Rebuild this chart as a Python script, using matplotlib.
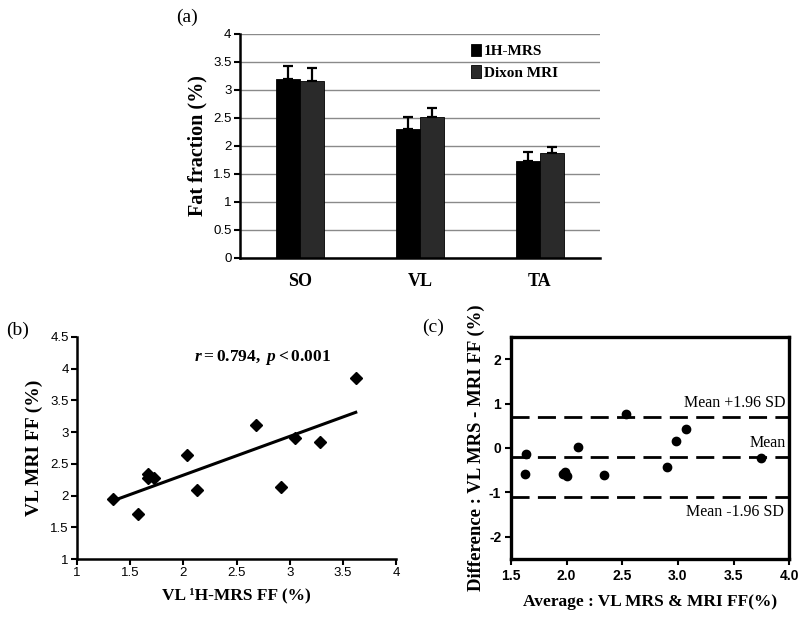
import numpy as np
import matplotlib
matplotlib.use("Agg")
import matplotlib.pyplot as plt
from matplotlib.ticker import FormatStrFormatter, MultipleLocator

plt.rcParams['font.family'] = ['Liberation Sans', 'DejaVu Sans']
plt.rcParams['mathtext.fontset'] = 'custom'
plt.rcParams['mathtext.rm'] = 'Liberation Serif:bold'
plt.rcParams['mathtext.it'] = 'Liberation Serif:bold:italic'

SERIF = ['Liberation Serif', 'DejaVu Serif']

# (a) mean fat fraction per muscle
muscles = ['SO', 'VL', 'TA']
mrs_mean = [3.20, 2.30, 1.73]
mrs_err = [0.23, 0.22, 0.17]
dixon_mean = [3.16, 2.52, 1.87]
dixon_err = [0.23, 0.16, 0.11]

# (b) VL correlation
vl_mrs = [1.34, 1.57, 1.67, 1.67, 1.72, 2.03, 2.13, 2.68, 2.92, 3.05, 3.28, 3.62]
vl_mri = [1.94, 1.71, 2.34, 2.27, 2.27, 2.64, 2.09, 3.11, 2.14, 2.90, 2.85, 3.85]

# (c) Bland-Altman
ba_avg = [1.64, 1.63, 1.97, 1.99, 2.00, 2.10, 2.335, 2.53, 2.90, 2.98, 3.07, 3.75]
ba_diff = [-0.14, -0.58, -0.58, -0.55, -0.64, 0.03, -0.61, 0.77, -0.42, 0.15, 0.43, -0.23]
mean_diff = -0.21
loa = 0.905

fig = plt.figure(figsize=(8.02, 6.17), dpi=100)

# ---------------- (a)
ax1 = fig.add_axes([0.299, 0.582, 0.449, 0.363])
x = np.arange(len(muscles))
w = 0.2
ax1.set_axisbelow(True)
ax1.yaxis.grid(True, color='#8a8a8a', lw=1)
ax1.bar(x - w / 2, mrs_mean, w, color='black', edgecolor='black', lw=0.6,
        label='1H-MRS', zorder=2)
ax1.bar(x + w / 2, dixon_mean, w, color='#2a2a2a', edgecolor='black', lw=0.6,
        label='Dixon MRI', zorder=2)
ax1.errorbar(x - w / 2, mrs_mean, yerr=[np.zeros(3), mrs_err], fmt='none',
             ecolor='black', elinewidth=1.6, capsize=3.5, capthick=1.6, zorder=3)
ax1.errorbar(x + w / 2, dixon_mean, yerr=[np.zeros(3), dixon_err], fmt='none',
             ecolor='black', elinewidth=1.6, capsize=3.5, capthick=1.6, zorder=3)
ax1.set_xlim(-0.5, 2.5)
ax1.set_ylim(0, 4)
ax1.yaxis.set_major_locator(MultipleLocator(0.5))
ax1.yaxis.set_major_formatter(FormatStrFormatter('%g'))
ax1.set_xticks(x)
ax1.set_xticklabels(muscles, family=SERIF, fontweight='bold', fontsize=13)
ax1.tick_params(axis='x', length=0, pad=11)
ax1.tick_params(axis='y', labelsize=9.5, length=4, width=1.5, pad=2)
for s in ['top', 'right']:
    ax1.spines[s].set_visible(False)
for s in ['left', 'bottom']:
    ax1.spines[s].set_linewidth(1.8)
ax1.set_ylabel('Fat fraction (%)', family=SERIF, fontweight='bold', fontsize=14.5,
               labelpad=4)
ax1.legend(loc='upper left', bbox_to_anchor=(0.62, 0.99), frameon=False,
           handlelength=0.7, handleheight=0.9, handletextpad=0.15,
           labelspacing=0.45, borderpad=0,
           prop={'family': SERIF, 'weight': 'bold', 'size': 11})
fig.text(0.233, 0.972, '(a)', family=SERIF, fontsize=14, ha='center', va='center')

# ---------------- (b)
ax2 = fig.add_axes([0.096, 0.094, 0.398, 0.360])
ax2.plot(vl_mrs, vl_mri, 'D', color='black', ms=6.5, zorder=3)
coef = np.polyfit(vl_mrs, vl_mri, 1)
xs = np.array([min(vl_mrs), max(vl_mrs)])
ax2.plot(xs, np.polyval(coef, xs), color='black', lw=2.2)
ax2.set_xlim(1, 4)
ax2.set_ylim(1, 4.5)
ax2.xaxis.set_major_locator(MultipleLocator(0.5))
ax2.yaxis.set_major_locator(MultipleLocator(0.5))
ax2.xaxis.set_major_formatter(FormatStrFormatter('%g'))
ax2.yaxis.set_major_formatter(FormatStrFormatter('%g'))
ax2.tick_params(labelsize=9.5, length=4, width=1.5, pad=2)
for s in ['top', 'right']:
    ax2.spines[s].set_visible(False)
for s in ['left', 'bottom']:
    ax2.spines[s].set_linewidth(1.8)
ax2.set_ylabel('VL MRI FF (%)', family=SERIF, fontweight='bold', fontsize=14,
               labelpad=5)
ax2.set_xlabel('VL \u00b9H-MRS FF (%)', family=SERIF, fontweight='bold',
               fontsize=12.5, labelpad=6)
ax2.text(0.58, 0.905, r'$r = \mathrm{0.794,}\ p < \mathrm{0.001}$',
         transform=ax2.transAxes, fontsize=12.5, ha='center', va='center')
fig.text(0.022, 0.465, '(b)', family=SERIF, fontsize=14, ha='center', va='center')

# ---------------- (c)
ax3 = fig.add_axes([0.637, 0.094, 0.347, 0.360])
ax3.plot(ba_avg, ba_diff, 'o', color='black', ms=6, zorder=3)
for yv in [mean_diff + loa, mean_diff, mean_diff - loa]:
    ax3.axhline(yv, color='black', lw=2, dashes=(6.5, 3))
ax3.set_xlim(1.5, 4.0)
ax3.set_ylim(-2.5, 2.5)
ax3.xaxis.set_major_locator(MultipleLocator(0.5))
ax3.yaxis.set_major_locator(MultipleLocator(1))
ax3.xaxis.set_major_formatter(FormatStrFormatter('%.1f'))
ax3.yaxis.set_major_formatter(FormatStrFormatter('%d'))
ax3.tick_params(labelsize=10, length=4, width=1.5, pad=3)
for lab in ax3.get_xticklabels() + ax3.get_yticklabels():
    lab.set_fontweight('bold')
for s in ax3.spines.values():
    s.set_linewidth(2.4)
ax3.text(3.97, mean_diff + loa + 0.13, 'Mean +1.96 SD', family=SERIF, fontsize=11.5,
         ha='right', va='bottom')
ax3.text(3.97, mean_diff + 0.13, 'Mean', family=SERIF, fontsize=11.5,
         ha='right', va='bottom')
ax3.text(3.95, mean_diff - loa - 0.15, 'Mean -1.96 SD', family=SERIF, fontsize=11.5,
         ha='right', va='top')
ax3.set_ylabel('Difference : VL MRS - MRI FF (%)', family=SERIF, fontweight='bold',
               fontsize=13.5, labelpad=3)
ax3.set_xlabel('Average : VL MRS & MRI FF(%)', family=SERIF, fontweight='bold',
               fontsize=12.5, labelpad=8)
fig.text(0.540, 0.470, '(c)', family=SERIF, fontsize=14, ha='center', va='center')

fig.savefig('out.png', dpi=100)
